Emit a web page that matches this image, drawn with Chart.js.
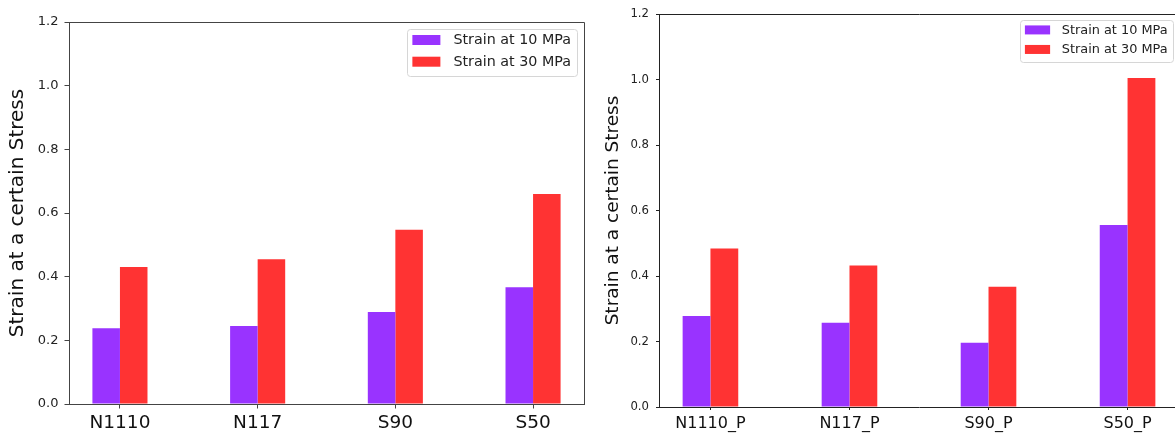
<!DOCTYPE html>
<html>
<head>
<meta charset="utf-8">
<script src="https://cdn.jsdelivr.net/npm/chart.js@4.4.1/dist/chart.umd.min.js"></script>
<style>
html, body { margin: 0; padding: 0; background: #fff; overflow: hidden; width: 1175px; height: 436px; }
#leftChart { position: absolute; left: 0; top: 0; }
#rightChart { position: absolute; left: 590px; top: 0; }
</style>
</head>
<body>
<canvas id="leftChart" width="600" height="436"></canvas>
<canvas id="rightChart" width="600" height="436"></canvas>
<script>
// --- DATA ---
const seriesLabels = ['Strain at 10 MPa', 'Strain at 30 MPa'];
const seriesColors = ['#9933ff', '#ff3333'];
const yTickValues = [0, 0.2, 0.4, 0.6, 0.8, 1.0, 1.2];
const yTitle = 'Strain at a certain Stress';

const leftCategories = ['N1110', 'N117', 'S90', 'S50'];
const leftStrain10 = [0.238, 0.245, 0.289, 0.367];
const leftStrain30 = [0.430, 0.455, 0.547, 0.660];

const rightCategories = ['N1110_P', 'N117_P', 'S90_P', 'S50_P'];
const rightStrain10 = [0.278, 0.257, 0.196, 0.556];
const rightStrain30 = [0.484, 0.432, 0.367, 1.005];

const FONT = '"DejaVu Sans", sans-serif';

// frame (top + right spines) and matplotlib-like legend inside the axes
const framePlugin = {
    id: 'frame',
    afterDraw(chart, args, opts) {
        const ctx = chart.ctx;
        const a = chart.chartArea;
        ctx.save();
        ctx.strokeStyle = opts.color;
        ctx.lineWidth = 1;
        ctx.beginPath();
        ctx.moveTo(Math.round(a.left) + 0.5, Math.round(a.top) + 0.5);
        ctx.lineTo(Math.round(a.right) + 0.5, Math.round(a.top) + 0.5);
        ctx.lineTo(Math.round(a.right) + 0.5, Math.round(a.bottom) + 0.5);
        ctx.stroke();

        // legend
        const s = opts.scale;
        const fs = 14.3 * s;
        ctx.font = fs + 'px ' + FONT;
        const sets = chart.data.datasets;
        let tw = 0;
        sets.forEach(d => { tw = Math.max(tw, ctx.measureText(d.label).width); });
        const pad = 5.5 * s, sw = 28 * s, sh = 10 * s, gap = 13 * s, rowH = 21.7 * s;
        const w = pad + sw + gap + tw + 6 * s;
        const h = 6 * s + sh + rowH * (sets.length - 1) + 9.3 * s;
        const x = a.right - opts.margin - w;
        const y = a.top + opts.margin;
        ctx.beginPath();
        ctx.roundRect(Math.round(x) + 0.5, Math.round(y) + 0.5, Math.round(w), Math.round(h), 3);
        ctx.fillStyle = 'rgba(255,255,255,0.8)';
        ctx.fill();
        ctx.strokeStyle = '#d6d6d6';
        ctx.stroke();
        ctx.textBaseline = 'middle';
        ctx.textAlign = 'left';
        sets.forEach((d, i) => {
            const cy = y + 6 * s + sh / 2 + i * rowH;
            ctx.fillStyle = d.backgroundColor;
            ctx.fillRect(x + pad, cy - sh / 2, sw, sh);
            ctx.fillStyle = '#222';
            ctx.fillText(d.label, x + pad + sw + gap, cy + 0.5);
        });
        ctx.restore();
    }
};

function makeChart(id, categories, s10, s30, cfg) {
    const values = [s10, s30];
    return new Chart(document.getElementById(id), {
        type: 'bar',
        data: {
            datasets: values.map((vals, k) => ({
                label: seriesLabels[k],
                backgroundColor: seriesColors[k],
                borderWidth: 0,
                data: vals.map((v, i) => ({ x: i, y: v }))
            }))
        },
        options: {
            responsive: false,
            animation: false,
            devicePixelRatio: 1,
            categoryPercentage: 0.4,
            barPercentage: 1.0,
            layout: { padding: { top: cfg.top, right: cfg.right, left: 0, bottom: 0 } },
            plugins: {
                legend: { display: false },
                tooltip: { enabled: false },
                frame: { color: cfg.spine, scale: cfg.legendScale, margin: cfg.legendMargin }
            },
            scales: {
                x: {
                    type: 'linear',
                    offset: false,
                    min: -0.37,
                    max: categories.length - 1 + 0.37,
                    afterBuildTicks: sc => { sc.ticks = categories.map((c, i) => ({ value: i })); },
                    afterFit: sc => { sc.height = cfg.xHeight; },
                    grid: { drawOnChartArea: false, drawTicks: true, tickLength: cfg.tickLen, color: cfg.spine, offset: false },
                    border: { display: true, color: cfg.spine, width: 1 },
                    ticks: {
                        autoSkip: false,
                        maxRotation: 0,
                        padding: cfg.xPad,
                        color: '#111',
                        font: { family: FONT, size: cfg.xFont },
                        callback: v => categories[Math.round(v)]
                    }
                },
                y: {
                    min: 0,
                    max: 1.2,
                    afterBuildTicks: sc => { sc.ticks = yTickValues.map(v => ({ value: v })); },
                    afterFit: sc => { sc.width = cfg.yWidth; },
                    grid: { drawOnChartArea: false, drawTicks: true, tickLength: cfg.tickLen, color: cfg.spine },
                    border: { display: true, color: cfg.spine, width: 1 },
                    ticks: {
                        padding: cfg.yPad,
                        color: '#222',
                        font: { family: FONT, size: cfg.yFont },
                        callback: v => v.toFixed(1)
                    },
                    title: {
                        display: true,
                        text: yTitle,
                        color: '#111',
                        font: { family: FONT, size: cfg.titleFont },
                        padding: { top: cfg.titlePad, bottom: 0 }
                    }
                }
            }
        },
        plugins: [framePlugin]
    });
}

makeChart('leftChart', leftCategories, leftStrain10, leftStrain30, {
    top: 22, right: 16, xHeight: 32, yWidth: 69, tickLen: 4.5,
    xPad: 4, yPad: 6, xFont: 18.5, yFont: 13, titleFont: 20, titlePad: 6,
    spine: '#444', legendScale: 1, legendMargin: 7
});

makeChart('rightChart', rightCategories, rightStrain10, rightStrain30, {
    top: 14, right: 11, xHeight: 29, yWidth: 69, tickLen: 3,
    xPad: 4, yPad: 7, xFont: 16, yFont: 11.7, titleFont: 18.5, titlePad: 12,
    spine: '#222', legendScale: 0.9, legendMargin: 6
});
</script>
</body>
</html>
